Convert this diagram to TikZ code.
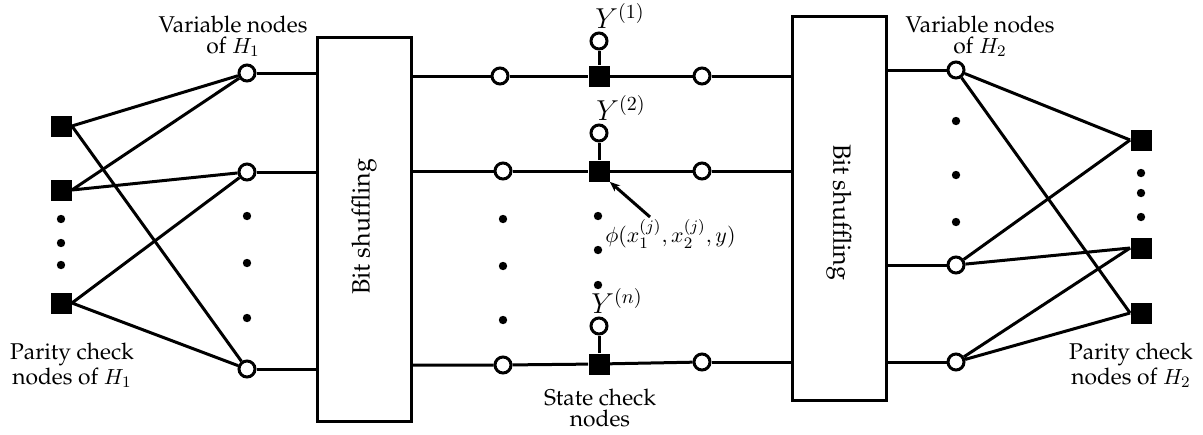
\documentclass[tikz,border=0pt]{standalone}
\usepackage[T1]{fontenc}
\renewcommand{\rmdefault}{ppl}
\usetikzlibrary{arrows.meta}
\begin{document}
\begin{tikzpicture}[x=0.5pt,y=-0.5pt,
  every node/.style={font=\fontsize{11.4}{10.5}\selectfont},
  ln/.style={line width=1.5pt},
  vnode/.style={circle,draw,line width=1.5pt,fill=white,minimum size=8pt,inner sep=0pt},
  cnode/.style={rectangle,fill=black,minimum size=10.5pt,inner sep=0pt},
  dotn/.style={circle,fill=black,minimum size=4.2pt,inner sep=0pt},
  shufbox/.style={draw,line width=1.5pt,minimum width=47pt,minimum height=192pt,inner sep=0pt},
  ylbl/.style={inner sep=0pt,font=\fontsize{14}{14}\selectfont},
  lbl/.style={align=center,inner sep=0pt}]
\useasboundingbox (0,0) rectangle (1203,434);
% ---------- left side ----------
\node[cnode] (L1) at (61,126) {};
\node[cnode] (L2) at (61,190) {};
\node[cnode] (L3) at (61,303) {};
\node[dotn] (ld1) at (61,219) {};
\node[dotn] (ld2) at (61,243) {};
\node[dotn] (ld3) at (61,265) {};
\node[vnode] (A1) at (247,73) {};
\node[vnode] (A2) at (247,172) {};
\node[vnode] (A3) at (247,369) {};
\node[dotn] (ad1) at (247,216) {};
\node[dotn] (ad2) at (247,263) {};
\node[dotn] (ad3) at (247,318) {};
\node[shufbox] (BL) at (364,229) {};
\node[rotate=90,font=\fontsize{12.5}{12}\selectfont] (BLt) at (364,227) {Bit shuffling};
\node[lbl] (tVL) at (233,36) {Variable nodes\\of $H_1$};
\node[lbl] (tPL) at (72,365) {Parity check\\nodes of $H_1$};
\draw[ln] (L1.east) -- (A1) (L1.east) -- (A3);
\draw[ln] (L2.east) -- (A1) (L2.east) -- (A2);
\draw[ln] (L3.east) -- (A2) (L3.east) -- (A3);
\draw[ln] (A1) -- (A1 -| BL.west);
\draw[ln] (A2) -- (A2 -| BL.west);
\draw[ln] (A3) -- (A3 -| BL.west);
% ---------- right box ----------
\node[shufbox] (BR) at (839,208.5) {};
\node[rotate=-90,font=\fontsize{12.5}{12}\selectfont] (BRt) at (839,212) {Bit shuffling};
% ---------- middle ----------
\node[vnode] (M1) at (500,76) {};
\node[vnode] (M2) at (503,171) {};
\node[vnode] (M3) at (503,365) {};
\node[cnode] (S1) at (599,76) {};
\node[cnode] (S2) at (599,171) {};
\node[cnode] (S3) at (599,364) {};
\node[vnode] (N1) at (702,76) {};
\node[vnode] (N2) at (702,171) {};
\node[vnode] (N3) at (702,362) {};
\node[vnode] (Y1) at (599,41) {};
\node[vnode] (Y2) at (599,133) {};
\node[vnode] (Y3) at (599,326) {};
\node[ylbl] (tY1) at (620,16) {$Y^{(1)}$};
\node[ylbl] (tY2) at (621,108) {$Y^{(2)}$};
\node[ylbl] (tY3) at (617,301) {$Y^{(n)}$};
\node[dotn] (md1) at (503,219) {};
\node[dotn] (md2) at (503,266) {};
\node[dotn] (md3) at (503,320) {};
\node[dotn] (sd1) at (598,216) {};
\node[dotn] (sd2) at (598,250) {};
\node[dotn] (sd3) at (598,285) {};
\node[lbl,anchor=west] (tphi) at (605,234) {$\phi(x_1^{(j)},x_2^{(j)},y)$};
\node[lbl] (tSC) at (600,408) {State check\\nodes};
\coordinate (arr) at (650,217);
\draw[ln,-{Stealth[length=5pt,width=4pt]}] (arr) -- (S2.south east);
\foreach \i in {1,2,3}{
  \draw[ln] (M\i -| BL.east) -- (M\i) -- (S\i) -- (N\i);
  \draw[ln] (S\i) -- (Y\i);
}
\draw[ln] (N1) -- (N1 -| BR.west);
\draw[ln] (N2) -- (N2 -| BR.west);
\draw[ln] (N3) -- (N3 -| BR.west);
% ---------- right side ----------
\node[vnode] (B1) at (956,70) {};
\node[vnode] (B2) at (956,265) {};
\node[vnode] (B3) at (956,362) {};
\node[dotn] (bd1) at (956,121) {};
\node[dotn] (bd2) at (956,175) {};
\node[dotn] (bd3) at (956,222) {};
\node[cnode] (R1) at (1141,140) {};
\node[cnode] (R2) at (1141,248) {};
\node[cnode] (R3) at (1141,313) {};
\node[dotn] (rd1) at (1141,173) {};
\node[dotn] (rd2) at (1141,193) {};
\node[dotn] (rd3) at (1141,217) {};
\node[lbl] (tVR) at (980,36) {Variable nodes\\of $H_2$};
\node[lbl] (tPR) at (1131,365) {Parity check\\nodes of $H_2$};
\draw[ln] (B1 -| BR.east) -- (B1);
\draw[ln] (B2 -| BR.east) -- (B2);
\draw[ln] (B3 -| BR.east) -- (B3);
\draw[ln] (B1) -- (R1.west) (B1) -- (R3.west);
\draw[ln] (B2) -- (R1.west) (B2) -- (R2.west);
\draw[ln] (B3) -- (R2.west) (B3) -- (R3.west);
\end{tikzpicture}
\end{document}
